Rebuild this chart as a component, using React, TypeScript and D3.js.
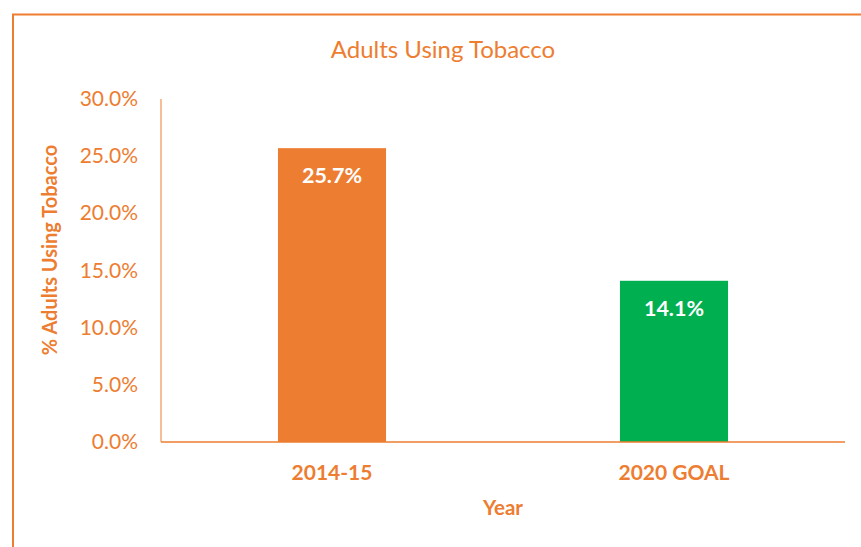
import React from "react";
import * as d3 from "d3";

const categories = ["2014-15", "2020 GOAL"];
const values = [25.7, 14.1];
const barColors = ["#ED7D31", "#00B050"];
const yTicks = [0, 5, 10, 15, 20, 25, 30];

const W = 861;
const H = 547;
const ORANGE = "#ED7D31";
const FONT = "Lato, 'Open Sans', sans-serif";

export default function App() {
  const left = 161, right = 845, top = 99, bottom = 442;
  const x = d3.scaleBand<string>().domain(categories).range([left, right]).padding(0);
  const y = d3.scaleLinear().domain([0, 30]).range([bottom, top]);
  const barW = x.bandwidth() * 0.316;
  return (
    <svg width={W} height={H} style={{ position: "absolute", left: 0, top: 0 }}>
      <rect x={0} y={0} width={W} height={H} fill="#fff" />
      <rect x={13} y={14.5} width={W + 10} height={H + 10} fill="none" stroke={ORANGE} strokeWidth={2} />
      <text x={443} y={58} textAnchor="middle" fill={ORANGE} fontFamily={FONT} fontSize={24}>
        Adults Using Tobacco
      </text>
      {categories.map((c, i) => (
        <rect key={c} x={(x(c) as number) + x.bandwidth() / 2 - barW / 2} y={y(values[i])}
          width={barW} height={bottom - y(values[i])} fill={barColors[i]} />
      ))}
      {categories.map((c, i) => (
        <text key={c + "l"} x={(x(c) as number) + x.bandwidth() / 2} y={y(values[i]) + 35}
          textAnchor="middle" fill="#fff" fontFamily={FONT} fontWeight="bold" fontSize={21.5}>
          {values[i].toFixed(1)}%
        </text>
      ))}
      <line x1={left} x2={left} y1={top} y2={bottom} stroke={ORANGE} strokeWidth={1} />
      <line x1={left} x2={right} y1={bottom} y2={bottom} stroke={ORANGE} strokeWidth={1.5} />
      {yTicks.map((t) => (
        <text key={t} x={138} y={y(t) + 7} textAnchor="end" fill={ORANGE} fontFamily={FONT} fontSize={21}>
          {t.toFixed(1)}%
        </text>
      ))}
      {categories.map((c) => (
        <text key={c + "x"} x={(x(c) as number) + x.bandwidth() / 2} y={480} textAnchor="middle"
          fill={ORANGE} fontFamily={FONT} fontWeight="bold" fontSize={21}>
          {c}
        </text>
      ))}
      <text x={503} y={515} textAnchor="middle" fill={ORANGE} fontFamily={FONT} fontWeight="bold" fontSize={20.5}>
        Year
      </text>
      <text transform={`translate(57,250) rotate(-90)`} textAnchor="middle" fill={ORANGE}
        fontFamily={FONT} fontWeight="bold" fontSize={20}>
        % Adults Using Tobacco
      </text>
    </svg>
  );
}
